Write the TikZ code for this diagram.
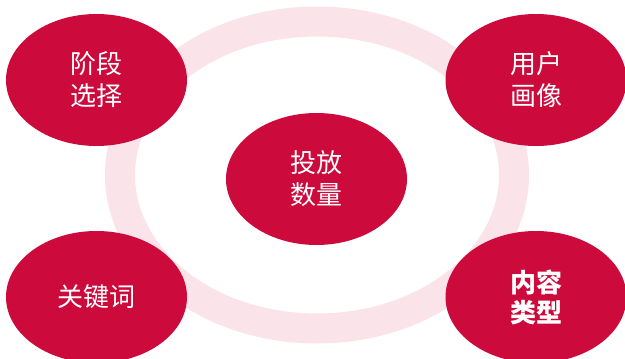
\documentclass[tikz,border=0pt]{standalone}
\usepackage{fontspec}
\newfontfamily\cjk{Noto Sans CJK SC}
\usetikzlibrary{shapes.geometric}
\definecolor{crimson}{HTML}{CC0A3C}
\definecolor{ringpink}{HTML}{FAE4EA}
\begin{document}
\begin{tikzpicture}[x=1pt,y=-1pt,
  blob/.style={ellipse,fill=crimson,draw=none,minimum width=181pt,minimum height=132pt,inner sep=0pt,
    text=white,align=center,font=\cjk\fontsize{26}{32}\selectfont},
  boldblob/.style={blob,font=\cjk\bfseries\fontsize{26}{30}\selectfont}]
\useasboundingbox (0,0) rectangle (625,359);
\clip (0,0) rectangle (625,359);
\fill[white] (0,0) rectangle (625,359);
\node[ellipse,draw=ringpink,line width=30pt,minimum width=394pt,minimum height=307pt,inner sep=0pt] (ring) at (317,175) {};
\node[blob] (stage) at (96.5,80) {阶段\\选择};
\node[blob] (user) at (536,80) {用户\\画像};
\node[blob] (qty) at (316.5,179) {投放\\数量};
\node[blob] (kw) at (96.5,297) {关键词};
\node[boldblob] (content) at (536,297) {内容\\类型};
\end{tikzpicture}
\end{document}
